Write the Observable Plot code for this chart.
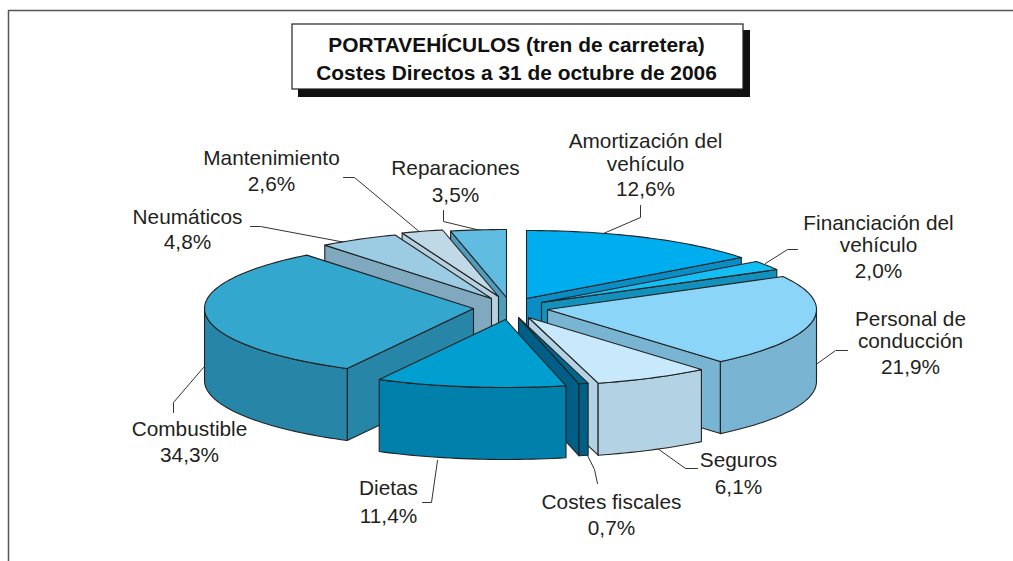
<!DOCTYPE html>
<html><head><meta charset="utf-8">
<style>html,body{margin:0;padding:0;background:#fff}svg{display:block}</style>
<script src="https://cdn.jsdelivr.net/npm/d3@7"></script>
<script src="https://cdn.jsdelivr.net/npm/@observablehq/plot@0.6"></script>
</head><body><script>
// --- Data
const categories = ["Amortización del vehículo","Financiación del vehículo","Personal de conducción","Seguros","Costes fiscales","Dietas","Combustible","Neumáticos","Mantenimiento","Reparaciones"];
const shares = [12.6,2.0,21.9,6.1,0.7,11.4,34.3,4.8,2.6,3.5];
const shareLabels = ["12,6%","2,0%","21,9%","6,1%","0,7%","11,4%","34,3%","4,8%","2,6%","3,5%"];
const titleLines = ["PORTAVEHÍCULOS (tren de carretera)","Costes Directos a 31 de octubre de 2006"];

// --- Styling of each slice
const topColors  = ["#00aeef","#14bdf2","#8bd6f8","#c8e9fb","#00688f","#009fcf","#34a7cf","#9bcce4","#c1d9e6","#60bce1"];
const wallColors = ["#0a8cc4","#1391bd","#79b4d2","#b3d3e4","#005f86","#0080aa","#2786a8","#80a8be","#b5d0de","#4f9cbb"];

// --- Pie layout: the drawing's oblique view bends the angles, so shares pass through this warp
const center = [510,305], rx = 269, ry = 68, depth = 72;
const drawnAngles = [0,53,61,140,165,167,208,321.7,339,348,360];
const explodeX = [16,31,37,18,8,-5,-37,-19,-12,-4];
const explodeY = [-7,-3,4,12,12,14,3,-7,-9,-8];
const paintOrder = [9,8,7,6,0,1,2,3,4,5];

const cumulative = [0,...d3.cumsum(shares)];
const warp = d3.scaleLinear().domain(cumulative).range(drawnAngles);
const rad = d => d*Math.PI/180;
const rim = (c,a,down=0) => [c[0]+rx*Math.sin(rad(a)), c[1]-ry*Math.cos(rad(a))+down];
function arc(c,a0,a1,down=0){
  const n = Math.max(2,Math.ceil(Math.abs(a1-a0)/1.5)), out=[];
  for(let i=0;i<=n;i++) out.push(rim(c,a0+(a1-a0)*i/n,down));
  return out;
}
const polys = [];
function add(pts,fill,id){ [...pts,pts[0]].forEach(p=>polys.push({x:p[0],y:p[1],id,fill})); }
paintOrder.forEach(i=>{
  const a0=warp(cumulative[i]), a1=warp(cumulative[i+1]);
  const c=[center[0]+explodeX[i],center[1]+explodeY[i]];
  const edge = a1<180 ? a1 : a0>180 ? a0 : null;
  if(edge!==null){
    const e=rim(c,edge), b=rim(c,edge,depth);
    add([c,e,b,[c[0],c[1]+depth]],wallColors[i],`${i}-wall`);
  }
  const v0=Math.max(a0,90), v1=Math.min(a1,270);
  if(v1>v0) add([...arc(c,v0,v1),...arc(c,v1,v0,depth)],wallColors[i],`${i}-rim`);
  add([c,...arc(c,a0,a1)],topColors[i],`${i}-top`);
});

// --- Annotation layout
const labelX = [645,878,910,738,611,388,189,187,271,455];
const labelY = [[141,164,189],[223,245,271],[319,341,367],[460,487],[502,528],[488,516],[429,455],[217,242],[158,184],[168,195]];
const labelWords = [["Amortización del","vehículo"],["Financiación del","vehículo"],["Personal de","conducción"],["Seguros"],["Costes fiscales"],["Dietas"],["Combustible"],["Neumáticos"],["Mantenimiento"],["Reparaciones"]];
const labelRows = [];
categories.forEach((_,i)=>{
  [...labelWords[i],shareLabels[i]].forEach((t,k)=>labelRows.push({x:labelX[i],y:labelY[i][k],t}));
});
const leaderPaths = [
  [[603,233],[640,217],[640,205]],
  [[765,263],[787,249],[797,249]],
  [[817,363],[835,350],[847,350]],
  [[657,448],[685,468],[697,468]],
  [[587,455],[594,469],[597,483]],
  [[437,460],[431,502],[422,502]],
  [[203,367],[173,402],[173,412]],
  [[345,242],[260,226],[250,226]],
  [[421,233],[354,177],[343,177]],
  [[480,230],[443,221],[443,210]]
];
const leaders = leaderPaths.flatMap((p,id)=>p.map(q=>({x:q[0],y:q[1],id})));
const frame = [{x:8,y:561},{x:8,y:10},{x:1013,y:10}];

const font = "'Liberation Sans',Arial,sans-serif";
const plot = Plot.plot({
  width:1013,height:561,margin:0,
  x:{domain:[0,1013],range:[0,1013],axis:null},
  y:{domain:[0,561],range:[0,561],axis:null},
  style:{background:"#fff",fontFamily:font},
  marks:[
    Plot.line(frame,{x:"x",y:"y",stroke:"#555",strokeWidth:1.5}),
    Plot.rect([{a:298,b:750,c:30,d:97}],{x1:"a",x2:"b",y1:"c",y2:"d",fill:"#111"}),
    Plot.rect([{a:292,b:743,c:24,d:89}],{x1:"a",x2:"b",y1:"c",y2:"d",fill:"#fff",stroke:"#222",strokeWidth:1.2}),
    Plot.text(titleLines,{x:()=>516,y:(d,i)=>[45,73][i],text:d=>d,fontSize:20.9,fontWeight:"bold",fill:"#111",textAnchor:"middle",lineAnchor:"middle"}),
    Plot.line(leaders,{x:"x",y:"y",z:"id",stroke:"#333",strokeWidth:1}),
    Plot.line(polys,{x:"x",y:"y",z:"id",fill:"fill",stroke:"#222",strokeWidth:1.1,strokeLinejoin:"round"}),
    Plot.text(labelRows,{x:"x",y:"y",text:"t",fontSize:20.8,fill:"#231f20",textAnchor:"middle",lineAnchor:"middle"})
  ]
});
document.body.appendChild(plot);
</script></body></html>
